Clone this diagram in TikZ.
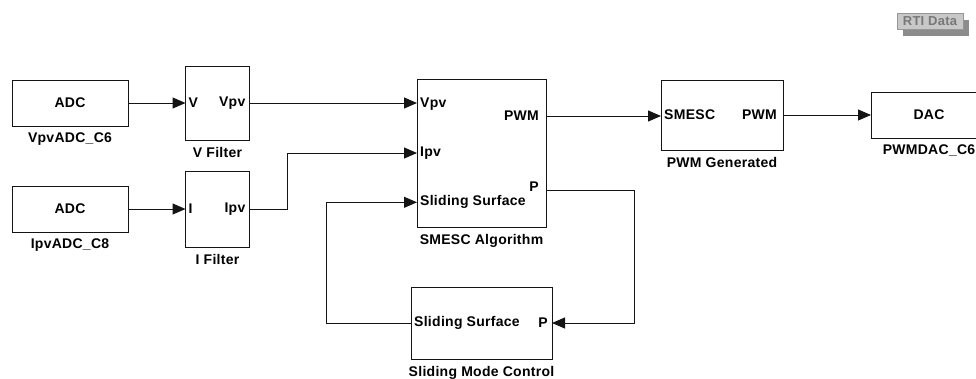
\documentclass[tikz,border=0pt]{standalone}
\usepackage{fontspec}
\setmainfont{Liberation Sans}[LetterSpace=2]
\usepackage{tikz}
\usetikzlibrary{arrows.meta, calc, positioning, shadows}
\definecolor{wireblack}{RGB}{20, 20, 20}
\definecolor{rtifill}{RGB}{200, 200, 200}
\definecolor{rtiedge}{RGB}{150, 150, 150}
\definecolor{rtitext}{RGB}{120, 120, 120}
\definecolor{rtishadow}{RGB}{140, 140, 140}
\newcommand{\blkfont}{\fontsize{14}{16}\selectfont\bfseries}

\begin{document}
\begin{tikzpicture}[x=1pt, y=-1pt,
		blk/.style={draw=wireblack, line width=1pt, inner sep=0pt, outer sep=0pt,
			font=\blkfont},
		cap/.style={inner sep=0pt, font=\blkfont, below=7pt of #1},
		inport/.style={inner sep=0pt, anchor=west, font=\blkfont},
		outport/.style={inner sep=0pt, anchor=east, font=\blkfont},
		arr/.style={-{Triangle[length=13pt, width=11pt]}, line width=1pt, draw=wireblack},
		wire/.style={line width=1pt, draw=wireblack}
	]
	\useasboundingbox (0,0) rectangle (976,378);
	% blocks
	\node[blk, minimum width=116, minimum height=46] (adcV) at (70, 103) {ADC};
	\node[blk, minimum width=116, minimum height=46] (adcI) at (70, 209) {ADC};
	\node[blk, minimum width=64, minimum height=74] (vfilt) at (217.5, 103) {};
	\node[blk, minimum width=64, minimum height=76] (ifilt) at (217.5, 209) {};
	\node[blk, minimum width=129, minimum height=148] (smesc) at (481.5, 153) {};
	\node[blk, minimum width=141, minimum height=72] (smc) at (481.5, 323) {};
	\node[blk, minimum width=122, minimum height=70] (pwmgen) at (722, 115) {};
	\node[blk, minimum width=116, minimum height=46] (dac) at (929, 115) {DAC};
	% captions
	\node[cap=adcV] {VpvADC\_C6};
	\node[cap=adcI] {IpvADC\_C8};
	\node[cap=vfilt] {V Filter};
	\node[cap=ifilt] {I Filter};
	\node[cap=smesc] {SMESC Algorithm};
	\node[cap=smc] {Sliding Mode Control};
	\node[cap=pwmgen] {PWM Generated};
	\node[cap=dac] {PWMDAC\_C6};
	% ports
	\coordinate (smescIn1) at ($(smesc.west)+(0,-49.3)$);
	\coordinate (smescIn3) at ($(smesc.west)+(0,49.3)$);
	\coordinate (smescOut1) at ($(smesc.north east)+(0,37)$);
	\coordinate (smescOut2) at ($(smesc.south east)+(0,-37)$);
	\node[inport] at ($(vfilt.west)+(3,0)$) {V};
	\node[outport] at ($(vfilt.east)+(-4,0)$) {Vpv};
	\node[inport] at ($(ifilt.west)+(3,0)$) {I};
	\node[outport] at ($(ifilt.east)+(-4,0)$) {Ipv};
	\node[inport] at ($(smescIn1)+(3,0)$) {Vpv};
	\node[inport] at ($(smesc.west)+(3,0)$) {Ipv};
	\node[inport] at ($(smescIn3)+(3,0)$) {Sliding Surface};
	\node[outport] at ($(smescOut1)+(-7,0)$) {PWM};
	\node[outport] at ($(smescOut2)+(-7,-3)$) {P};
	\node[inport] at ($(smc.west)+(3,0)$) {Sliding Surface};
	\node[outport] at ($(smc.east)+(-4,0)$) {P};
	\node[inport] at ($(pwmgen.west)+(3,0)$) {SMESC};
	\node[outport] at ($(pwmgen.east)+(-6,0)$) {PWM};
	% RTI data tag
	\node[draw=rtiedge, line width=1pt, fill=rtifill, text=rtitext, inner sep=2pt,
		minimum width=66, minimum height=16,
		font=\fontsize{13}{14}\selectfont\bfseries,
		drop shadow={shadow xshift=6pt, shadow yshift=-7pt, fill=rtishadow, opacity=1}]
		(rti) at (930, 21) {RTI Data};
	% wires
	\draw[arr] (adcV) -- (vfilt);
	\draw[arr] (adcI) -- (ifilt);
	\draw[arr] (vfilt.east) -- (vfilt.east -| smescIn1);
	\draw[arr] (ifilt.east) -- ++(38,0) |- (smesc.west);
	\draw[arr] (smescOut1) -- (smescOut1 -| pwmgen.west);
	\draw[arr] (pwmgen) -- (dac);
	\draw[arr] (smescOut2) -- ++(88,0) |- (smc.east);
	\draw[arr] (smc.west) -- ++(-85,0) |- (smescIn3);
\end{tikzpicture}
\end{document}
